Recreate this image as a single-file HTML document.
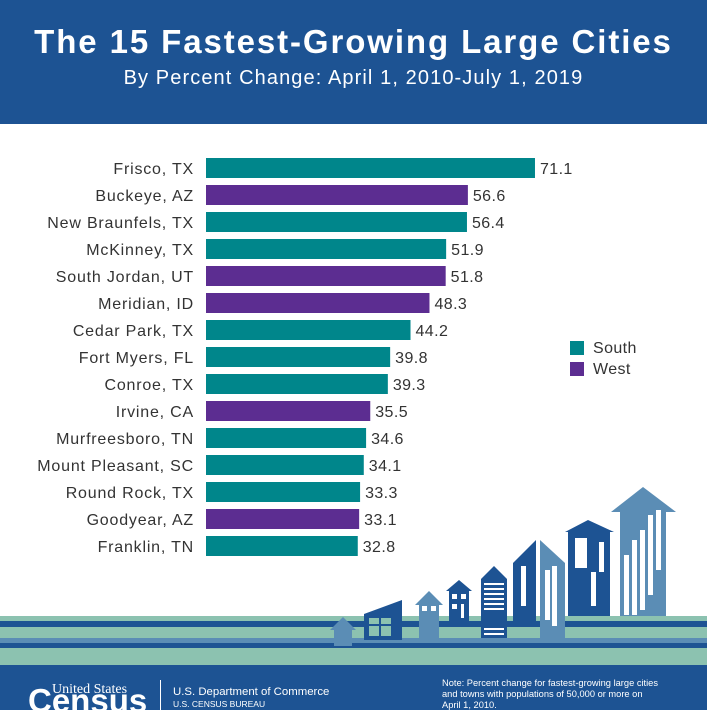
<!DOCTYPE html>
<html><head><meta charset="utf-8"><style>
body{margin:0;width:707px;height:710px;overflow:hidden;background:#fff;font-family:"Liberation Sans",sans-serif}
#hdr{position:absolute;left:0;top:0;width:707px;height:124px;background:#1d5393}
#t1{position:absolute;top:23px;width:707px;text-align:center;color:#fff;font-weight:bold;font-size:33px;letter-spacing:1.9px}
#t2{position:absolute;top:67px;width:707px;text-align:center;color:#fff;font-size:20px;letter-spacing:1.1px}
svg{position:absolute;left:0;top:0}
</style></head><body>
<div id="hdr">
<div id="t1">The 15 Fastest-Growing Large Cities</div>
<div id="t2">By Percent Change: April 1, 2010-July 1, 2019</div>
</div>
<svg id="c" width="707" height="710">
<g>
<rect x="0" y="616" width="707" height="5" fill="#8cc2b0"/>
<rect x="0" y="621" width="707" height="6" fill="#1d5393"/>
<rect x="0" y="627" width="707" height="11" fill="#8cc2b0"/>
<rect x="0" y="638" width="707" height="5" fill="#5b8db5"/>
<rect x="0" y="643" width="707" height="5" fill="#1d5393"/>
<rect x="0" y="648" width="707" height="17" fill="#8cc2b0"/>
<polygon points="330,630 343,617 356,630 352,630 352,646 334,646 334,630" fill="#5b8db5"/>
<polygon points="364,614 402,600 402,640 364,640" fill="#1d5393"/>
<rect x="369" y="618" width="22" height="18" fill="#8cc2b0"/><rect x="369" y="624" width="22" height="2" fill="#1d5393"/><rect x="379" y="618" width="2" height="18" fill="#1d5393"/>
<polygon points="415,605 429,591 443,605 439,605 439,640 419,640 419,605" fill="#5b8db5"/>
<rect x="422" y="606" width="5" height="5" fill="#fff"/><rect x="431" y="606" width="5" height="5" fill="#fff"/>
<polygon points="446,591 459,580 472,591 469,591 469,622 449,622 449,591" fill="#1d5393"/>
<rect x="452" y="594" width="5" height="5" fill="#fff"/><rect x="461" y="594" width="5" height="5" fill="#fff"/><rect x="452" y="604" width="5" height="5" fill="#fff"/><rect x="461" y="604" width="3" height="14" fill="#fff"/>
<polygon points="481,579 494,566 507,579 507,638 481,638" fill="#1d5393"/>
<g fill="#fff"><rect x="484" y="583" width="20" height="2"/><rect x="484" y="588" width="20" height="2"/><rect x="484" y="593" width="20" height="2"/><rect x="484" y="598" width="20" height="2"/><rect x="484" y="603" width="20" height="2"/><rect x="484" y="608" width="20" height="2"/><rect x="484" y="628" width="20" height="2"/><rect x="484" y="633" width="20" height="2"/></g>
<polygon points="513,563 536,540 536,622 513,622" fill="#1d5393"/>
<polygon points="540,540 565,563 565,640 540,640" fill="#5b8db5"/>
<polygon points="565,532 588,520 614,532 610,532 610,616 568,616 568,532" fill="#1d5393"/>
<polygon points="611,512 643,487 676,512 666,512 666,616 620,616 620,512" fill="#5b8db5"/>
<g fill="#fff"><rect x="575" y="538" width="12" height="30"/><rect x="599" y="542" width="5" height="30"/><rect x="591" y="572" width="5" height="34"/>
<rect x="624" y="555" width="5" height="60"/><rect x="632" y="540" width="5" height="75"/><rect x="640" y="530" width="5" height="80"/><rect x="648" y="515" width="5" height="80"/><rect x="656" y="510" width="5" height="60"/>
<rect x="545" y="570" width="5" height="50"/><rect x="552" y="566" width="5" height="60"/><rect x="521" y="566" width="5" height="40"/></g>
</g>
<rect x="0" y="665" width="707" height="45" fill="#1d5393"/>
<text x="28" y="712" fill="#fff" font-size="33" font-weight="bold">Census</text>
<text x="52" y="693" fill="#fff" font-size="14" font-family="Liberation Serif">United States</text>
<rect x="160" y="680" width="1" height="30" fill="#fff"/>
<text x="173" y="695" fill="#fff" font-size="11.4">U.S. Department of Commerce</text>
<text x="173" y="707" fill="#fff" font-size="8.5">U.S. CENSUS BUREAU</text>
<text fill="#fff" font-size="9.3"><tspan x="442" y="686">Note: Percent change for fastest-growing large cities</tspan><tspan x="442" y="697">and towns with populations of 50,000 or more on</tspan><tspan x="442" y="708">April 1, 2010.</tspan></text>
<g>
<rect x="570" y="341" width="14" height="14" fill="#00868b"/>
<text x="593" y="353" font-size="16" letter-spacing="0.4" fill="#333">South</text>
<rect x="570" y="362" width="14" height="14" fill="#5c2d91"/>
<text x="593" y="374" font-size="16" letter-spacing="0.4" fill="#333">West</text>
</g>
</svg>
<script>
const cities=["Frisco, TX","Buckeye, AZ","New Braunfels, TX","McKinney, TX","South Jordan, UT","Meridian, ID","Cedar Park, TX","Fort Myers, FL","Conroe, TX","Irvine, CA","Murfreesboro, TN","Mount Pleasant, SC","Round Rock, TX","Goodyear, AZ","Franklin, TN"];
const values=[71.1,56.6,56.4,51.9,51.8,48.3,44.2,39.8,39.3,35.5,34.6,34.1,33.3,33.1,32.8];
const regions=["South","West","South","South","West","West","South","South","South","West","South","South","South","West","South"];
const NS="http://www.w3.org/2000/svg",svg=document.getElementById('c');
const x0=206,k=4.627,y=i=>158+i*27;
const col={South:"#00868b",West:"#5c2d91"};
cities.forEach((c,i)=>{
 const r=document.createElementNS(NS,'rect');
 r.setAttribute('x',x0);r.setAttribute('y',y(i));r.setAttribute('width',values[i]*k);r.setAttribute('height',20);r.setAttribute('fill',col[regions[i]]);
 
 
 svg.appendChild(r);
 const l=document.createElementNS(NS,'text');
 l.setAttribute('x',194);l.setAttribute('y',y(i)+16);l.setAttribute('text-anchor','end');l.setAttribute('font-size','16');l.setAttribute('letter-spacing','0.8');l.setAttribute('fill','#333');l.textContent=c;
 
 
 svg.appendChild(l);
 const v=document.createElementNS(NS,'text');
 v.setAttribute('x',x0+values[i]*k+5);v.setAttribute('y',y(i)+16);v.setAttribute('font-size','16');v.setAttribute('letter-spacing','0.4');v.setAttribute('fill','#333');v.textContent=values[i].toFixed(1);
 
 
 svg.appendChild(v);
});
</script>
</body></html>
